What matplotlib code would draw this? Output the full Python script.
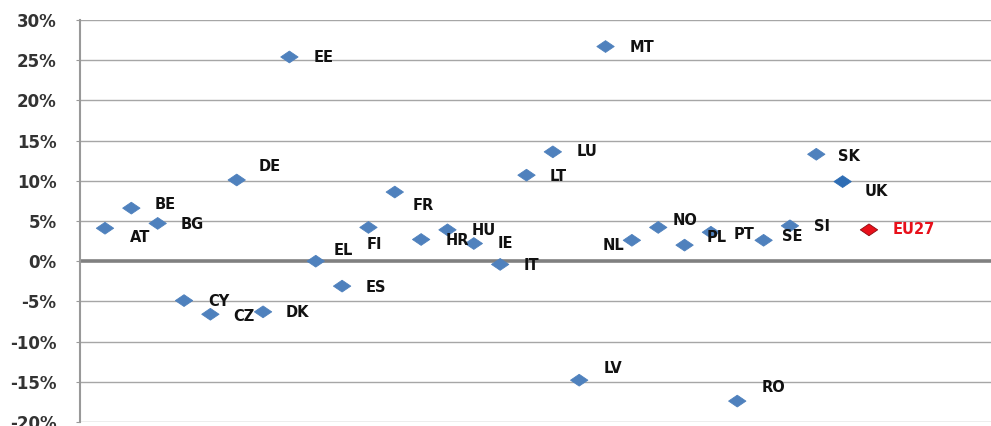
import matplotlib
matplotlib.use("Agg")
import matplotlib.pyplot as plt
from matplotlib.path import Path
from matplotlib.ticker import FuncFormatter

countries = ["AT", "BE", "BG", "CY", "CZ", "DE", "DK", "EE", "EL", "ES",
             "FI", "FR", "HR", "HU", "IE", "IT", "LT", "LU", "LV", "MT",
             "NL", "NO", "PL", "PT", "RO", "SE", "SI", "SK", "UK", "EU27"]
values = [4.1, 6.6, 4.7, -4.9, -6.6, 10.1, -6.3, 25.4, 0.0, -3.1,
          4.2, 8.6, 2.7, 3.9, 2.2, -0.4, 10.7, 13.6, -14.8, 26.7,
          2.6, 4.2, 2.0, 3.6, -17.4, 2.6, 4.4, 13.3, 9.9, 3.9]
yticks = [-20, -15, -10, -5, 0, 5, 10, 15, 20, 25, 30]

# label offsets in pixels (dx right, dy down)
label_offsets = [(25, 9), (23, -4), (23, 1), (24, 1), (23, 2), (22, -13), (23, 1), (24, 1),
                 (18, -11), (24, 1), (-2, 17), (18, 13), (24, 1), (24, 1), (24, 0), (23, 1),
                 (23, 1), (24, 0), (24, -12), (24, 1), (-29, 5), (14, -7), (22, -8), (23, 2),
                 (24, -14), (18, -4), (24, 1), (22, 2), (22, 10), (24, 0)]

W, H = 991, 426
fig = plt.figure(figsize=(W / 100, H / 100), dpi=100)
ax = fig.add_axes([80 / W, 1 - 422 / H, 1 - 80 / W, (422 - 20) / H])

xs = list(range(1, len(countries) + 1))
diamond = Path([(-1, 0), (0, 0.68), (1, 0), (0, -0.68), (-1, 0)],
               [Path.MOVETO, Path.LINETO, Path.LINETO, Path.LINETO, Path.CLOSEPOLY])

for yt in yticks:
    if yt == 0:
        continue
    ax.axhline(yt, color="#A6A6A6", lw=1.0, zorder=1)
ax.axhline(0, color="#808080", lw=2.6, zorder=2)

colors = []
for c in countries:
    if c == "EU27":
        colors.append("#E8101A")
    elif c == "UK":
        colors.append("#2E6DB4")
    else:
        colors.append("#4F81BD")
edges = ["#8B0A10" if c == "EU27" else col for c, col in zip(countries, colors)]

ax.scatter(xs, values, marker=diamond, s=12.5 ** 2, c=colors, edgecolors=edges,
           linewidths=0.6, zorder=3)

for x, v, c, (dx, dy) in zip(xs, values, countries, label_offsets):
    ax.annotate(c, (x, v), xytext=(dx * 0.72, -dy * 0.72), textcoords="offset points",
                ha="left", va="center", fontsize=10.5, fontweight="bold",
                color="#E8101A" if c == "EU27" else "#111111",
                family="DejaVu Sans", zorder=4)

ax.set_xlim(1 - 25 / 26.34, 30 + 122 / 26.34)
ax.set_ylim(-20, 30)
ax.set_yticks(yticks)
ax.yaxis.set_major_formatter(FuncFormatter(lambda v, p: f"{int(v)}%"))
ax.tick_params(axis="y", length=3, color="#999999", labelsize=12,
               labelcolor="#333333", pad=14)
for lab in ax.get_yticklabels():
    lab.set_fontweight("bold")
ax.set_xticks([])
for s in ["top", "right", "bottom"]:
    ax.spines[s].set_visible(False)
ax.spines["left"].set_color("#999999")
ax.spines["left"].set_linewidth(1.5)
ax.patch.set_alpha(0)

fig.savefig("out.png", dpi=100)
